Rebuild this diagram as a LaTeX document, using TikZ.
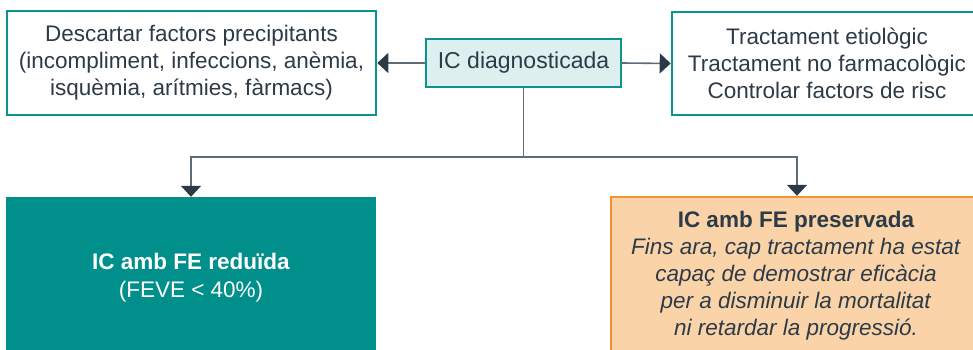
\documentclass[tikz,border=0pt]{standalone}
\usepackage{fontspec}
\setmainfont{Liberation Sans}
\usetikzlibrary{arrows.meta}
\definecolor{teal1}{HTML}{0A938F}
\definecolor{tealfill}{HTML}{008F8B}
\definecolor{icfill}{HTML}{DDEFEE}
\definecolor{orfill}{HTML}{FAD4A8}
\definecolor{orline}{HTML}{F29330}
\definecolor{txt}{HTML}{2D3B48}
\definecolor{ln}{HTML}{5F6B77}
\definecolor{tip}{HTML}{2C3A47}
\tikzset{
  topbox/.style={draw=teal1, line width=2.6pt, fill=white, inner sep=0pt},
  icbox/.style={draw=teal1, line width=2.2pt, fill=icfill, inner sep=0pt, font=\fontsize{23}{27}\selectfont},
  txtnode/.style={align=center, text=txt, inner sep=0pt, font=\fontsize{22.5}{27}\selectfont},
  conn/.style={draw=ln, line width=1.6pt},
  arr/.style={conn, -{Triangle[length=11pt,width=20pt,fill=tip,color=tip]}},
}
\begin{document}
\begin{tikzpicture}[x=1pt,y=-1pt]
\clip (0,0) rectangle (973,350);
\fill[white] (0,0) rectangle (973,350);
% top boxes
\node[topbox, minimum width=369pt, minimum height=104pt] (lb) at (191.5,63) {};
\node[txtnode] (lbt) at (lb.center) {Descartar factors precipitants\\(incompliment, infeccions, anèmia,\\isquèmia, arítmies, fàrmacs)};
\node[topbox, minimum width=310pt, minimum height=103pt] (rb) at (827,63.5) {};
\node[txtnode] (rbt) at (rb.center) {Tractament etiològic\\Tractament no farmacològic\\Controlar factors de risc};
\node[icbox, minimum width=195pt, minimum height=48pt, text=txt] (ic) at (523.5,63) {IC diagnosticada};
% bottom boxes
\node[fill=tealfill, minimum width=370pt, minimum height=162pt, inner sep=0pt, align=center, text=white, font=\fontsize{22.5}{28}\selectfont] (fr) at (191,278) {\textbf{IC amb FE reduïda}\\(FEVE < 40\%)};
\node[draw=orline, line width=2.4pt, fill=orfill, minimum width=372pt, minimum height=162pt, inner sep=0pt] (fp) at (797,278) {};
\node[txtnode, font=\fontsize{22.5}{27}\selectfont] (fpt) at (796,276) {\textbf{IC amb FE preservada}\\\textit{Fins ara, cap tractament ha estat}\\\textit{capaç de demostrar eficàcia}\\\textit{per a disminuir la mortalitat}\\\textit{ni retardar la progressió.}};
% connectors
\draw[arr] (ic.west) -- (lb.east);
\draw[arr] (ic.east) -- (rb.west);
\coordinate (jn) at (523.5,157);
\draw[conn] (ic.south) -- (jn);
\draw[arr] (jn) -| (fr.north);
\draw[arr] (jn) -| (fp.north);
\end{tikzpicture}
\end{document}
